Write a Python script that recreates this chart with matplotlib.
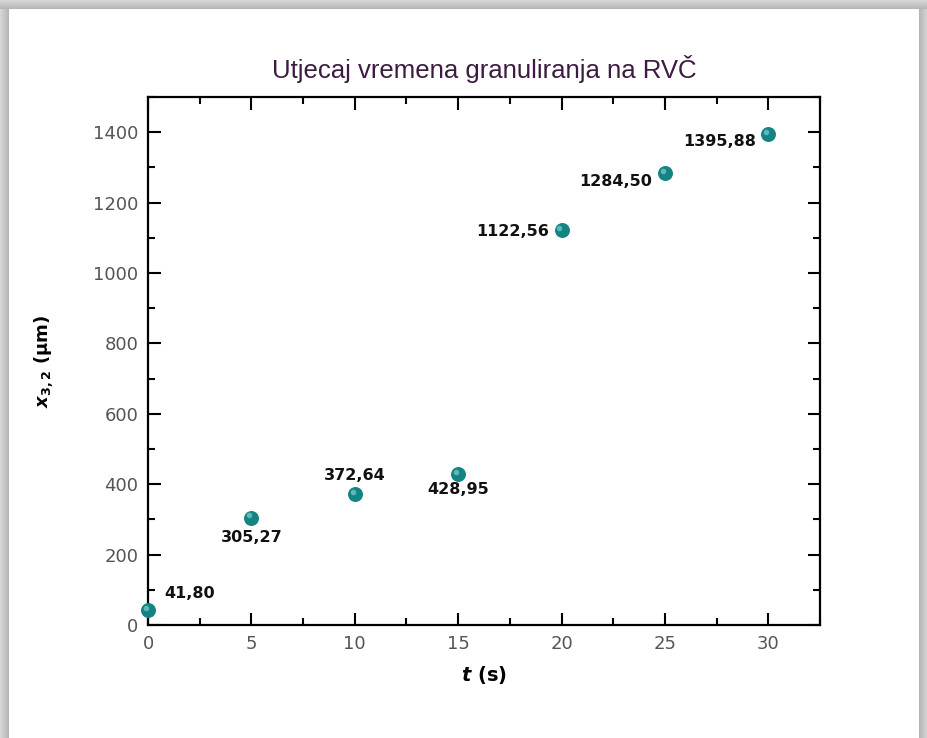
import matplotlib.pyplot as plt
import matplotlib.transforms as mtransforms
from matplotlib.patches import Rectangle
from matplotlib.ticker import MultipleLocator

# ==========================
# Data
# ==========================
t_s = [0, 5, 10, 15, 20, 25, 30]
x32 = [41.80, 305.27, 372.64, 428.95, 1122.56, 1284.50, 1395.88]
labels = ["41,80", "305,27", "372,64", "428,95", "1122,56", "1284,50", "1395,88"]

# label offsets in points (dx, dy) and alignment
label_pos = [
    (12, 7, "left", "bottom"),
    (0, -9, "center", "top"),
    (0, 8, "center", "bottom"),
    (0, -6, "center", "top"),
    (-9, -1, "right", "center"),
    (-9, -6, "right", "center"),
    (-9, -6, "right", "center"),
]

plt.rcParams["font.family"] = ["DejaVu Sans"]
plt.rcParams["mathtext.fontset"] = "dejavusans"

fig = plt.figure(figsize=(9.28, 7.38), dpi=100)
fig.patch.set_facecolor("white")

# --------------------------
# Frame shadow
# --------------------------
W, H = 928, 738
for i in range(9):
    g = 0.84 - 0.016 * i
    fig.patches.append(Rectangle((i / W, 0), 1 / W, 1 - 8 / H,
                                 transform=fig.transFigure, color=str(g), lw=0))
    fig.patches.append(Rectangle(((W - 1 - i) / W, 0), 1 / W, 1 - 8 / H,
                                 transform=fig.transFigure, color=str(g), lw=0))
for j in range(9):
    g = 0.84 - 0.016 * j
    fig.patches.append(Rectangle((0, (H - 1 - j) / H), 1, 1 / H,
                                 transform=fig.transFigure, color=str(g), lw=0))

ax = fig.add_axes([148 / W, 1 - 625 / H, (820 - 148) / W, (625 - 97) / H])

base_color = "#138383"
ax.scatter(t_s, x32, s=95, color=base_color, zorder=3, clip_on=False)
hl = mtransforms.offset_copy(ax.transData, fig=fig, x=-1.5, y=1.5, units="points")
ax.scatter(t_s, x32, s=16, color="#5fb8b8", zorder=4, clip_on=False,
           transform=hl, linewidths=0)

for xv, yv, lab, (dx, dy, ha, va) in zip(t_s, x32, labels, label_pos):
    ax.annotate(lab, (xv, yv), xytext=(dx, dy), textcoords="offset points",
                ha=ha, va=va, fontsize=11.5, fontweight="bold", color="#111111")

ax.set_xlim(0, 32.5)
ax.set_ylim(0, 1500)
ax.xaxis.set_major_locator(MultipleLocator(5))
ax.xaxis.set_minor_locator(MultipleLocator(2.5))
ax.yaxis.set_major_locator(MultipleLocator(200))
ax.yaxis.set_minor_locator(MultipleLocator(100))

ax.tick_params(which="both", direction="in", top=True, right=True,
               width=1.5, colors="black", labelcolor="#555555", labelsize=13)
ax.tick_params(which="major", length=9, pad=7)
ax.tick_params(which="minor", length=5)
for sp in ax.spines.values():
    sp.set_linewidth(1.6)

ax.set_xlabel(r"$\boldsymbol{t}$ (s)", fontsize=14, fontweight="bold", labelpad=8)
ax.set_ylabel(r"$\boldsymbol{x}_{\mathbf{3,2}}$ (μm)", fontsize=13,
              fontweight="bold", labelpad=27)

ax.set_title("Utjecaj vremena granuliranja na RVČ", fontsize=18.5,
             family=["Liberation Sans", "DejaVu Sans"], color="#3b1c40", pad=14)

fig.savefig("out.png", dpi=100)
